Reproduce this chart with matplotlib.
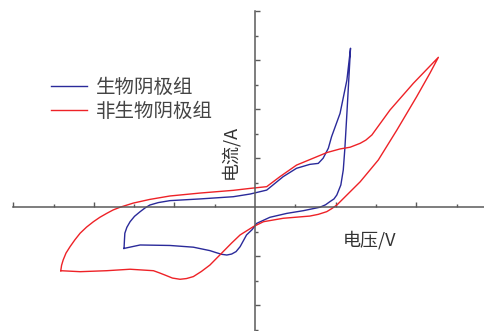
import matplotlib
matplotlib.use("Agg")
import matplotlib.pyplot as plt
from matplotlib.ticker import NullFormatter

plt.rcParams["font.family"] = ["Noto Sans CJK SC", "DejaVu Sans"]

# cyclic voltammetry loops: potential (V) and current (mA)
bio_v = [-0.325, -0.324, -0.323, -0.318, -0.310, -0.299, -0.285, -0.273, -0.261,
         -0.240, -0.211, -0.136, -0.054, -0.012, 0.029, 0.070, 0.103, 0.136,
         0.157, 0.169, 0.182, 0.190, 0.211, 0.228, 0.237, 0.234, 0.228, 0.223,
         0.219, 0.213, 0.203, 0.196, 0.186, 0.175, 0.161, 0.120, 0.079, 0.037,
         0.004, -0.007, -0.021, -0.037, -0.047, -0.058, -0.070, -0.083, -0.097,
         -0.112, -0.153, -0.211, -0.285, -0.325]
bio_i = [-1.69, -1.35, -1.07, -0.83, -0.60, -0.38, -0.19, -0.04, 0.08,
         0.18, 0.26, 0.33, 0.42, 0.53, 0.69, 1.24, 1.58, 1.74,
         1.78, 1.99, 2.40, 2.87, 3.82, 5.18, 6.48, 5.59, 3.82, 2.40,
         1.51, 0.90, 0.49, 0.33, 0.22, 0.09, -0.01, -0.15, -0.26, -0.42,
         -0.67, -0.92, -1.14, -1.62, -1.82, -1.92, -1.96, -1.93, -1.86,
         -1.78, -1.64, -1.57, -1.55, -1.69]

abio_v = [-0.482, -0.480, -0.476, -0.469, -0.459, -0.447, -0.434, -0.418, -0.401,
          -0.385, -0.368, -0.352, -0.335, -0.302, -0.261, -0.211, -0.136, -0.054,
          -0.012, 0.029, 0.062, 0.103, 0.153, 0.178, 0.211, 0.236, 0.261, 0.275,
          0.290, 0.335, 0.393, 0.455, 0.434, 0.401, 0.352, 0.306, 0.261, 0.228,
          0.203, 0.190, 0.178, 0.157, 0.136, 0.070, 0.021, -0.004, -0.037,
          -0.058, -0.079, -0.112, -0.133, -0.153, -0.170, -0.186, -0.205,
          -0.223, -0.237, -0.252, -0.310, -0.368, -0.434, -0.482]
abio_i = [-2.60, -2.38, -2.16, -1.88, -1.62, -1.34, -1.07, -0.82, -0.60,
          -0.42, -0.26, -0.12, -0.01, 0.16, 0.31, 0.45, 0.57, 0.68,
          0.76, 0.83, 1.24, 1.71, 2.05, 2.22, 2.37, 2.44, 2.60, 2.73,
          2.94, 3.96, 5.05, 6.11, 5.46, 4.50, 3.14, 1.92, 1.03, 0.49,
          0.08, -0.07, -0.19, -0.30, -0.37, -0.46, -0.60, -0.80, -1.14,
          -1.47, -1.82, -2.37, -2.63, -2.84, -2.92, -2.95, -2.90,
          -2.78, -2.69, -2.60, -2.54, -2.60, -2.64, -2.60]

labels = ["生物阴极组", "非生物阴极组"]
x_major = [-0.6, -0.4, -0.2, 0.2, 0.4]
x_minor = [-0.5, -0.3, -0.1, 0.1, 0.3, 0.5]
y_major = [-4, -2, 2, 4, 6, 8]
y_minor = [-5, -3, -1, 1, 3, 5, 7]
axis_grey = "#5a5a5a"

fig = plt.figure(figsize=(4.85, 3.31), dpi=100)
ax = fig.add_axes([0, 0, 1, 1])

ax.plot(bio_v, bio_i, color="#2a2a9a", lw=1.0, label=labels[0])
ax.plot(abio_v, abio_i, color="#ee2227", lw=1.0, label=labels[1])

# axes crossing at the origin
for side in ("top", "right"):
    ax.spines[side].set_visible(False)
ax.spines["left"].set_position(("data", 0))
ax.spines["bottom"].set_position(("data", 0))
ax.spines["left"].set_bounds(-6, 8)
ax.spines["bottom"].set_bounds(-0.6, 0.7)
for side in ("left", "bottom"):
    ax.spines[side].set_color(axis_grey)
    ax.spines[side].set_linewidth(1.1)

ax.set_xticks(x_major)
ax.set_xticks(x_minor, minor=True)
ax.set_yticks(y_major)
ax.set_yticks(y_minor, minor=True)
ax.xaxis.set_major_formatter(NullFormatter())
ax.yaxis.set_major_formatter(NullFormatter())
ax.tick_params(which="both", direction="in", color=axis_grey, width=1.0)
ax.tick_params(which="major", length=3.5)
ax.tick_params(which="minor", length=2.2)

ax.set_xlim(-0.6328, 0.5707)
ax.set_ylim(-5.061, 8.449)

ax.text(-0.062, 2.24, "电流/A", rotation=90, ha="center", va="center",
        fontsize=13, color="#333333")
ax.text(0.285, -1.35, "电压/V", ha="center", va="center",
        fontsize=13, color="#333333")

ax.legend(loc="upper left", bbox_to_anchor=(0.089, 0.79), frameon=False,
          fontsize=14, handlelength=1.85, handletextpad=0.46,
          labelspacing=0.12, borderaxespad=0, labelcolor="#444444")

fig.savefig("out.png", dpi=100)
